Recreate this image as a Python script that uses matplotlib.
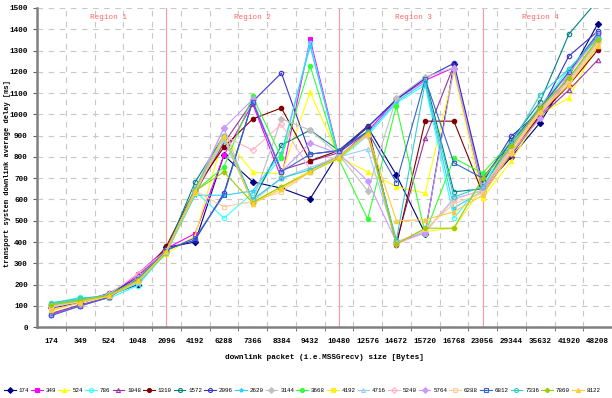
# Delay vs downlink packet size, one line per uplink packet size

import numpy as np
import matplotlib.pyplot as plt

plt.rcParams["font.family"] = ["Liberation Mono", "DejaVu Sans Mono"]

# x categories (downlink packet size)
sizes = ["174", "349", "524", "1048", "2096", "4192", "6288", "7366", "8384", "9432",
         "10480", "12576", "14672", "15720", "16768", "23056", "29344", "35632", "41920", "48208"]

# average delay [ms] per series
d174 = [95, 115, 150, 200, 375, 400, 808, 683, 653, 603, 820, 940, 715, 440, 1235, 650, 800, 961, 1180, 1424]
d349 = [60, 100, 140, 250, 370, 440, 808, 1050, 700, 1354, 800, 920, 1070, 1160, 1220, 640, 850, 1030, 1194, 1370]
d524 = [75, 120, 145, 215, 345, 430, 900, 729, 720, 1105, 800, 730, 660, 630, 1200, 606, 782, 1000, 1078, 1335]
d786 = [110, 140, 135, 195, 355, 640, 512, 630, 800, 1337, 790, 900, 1053, 1138, 512, 680, 850, 1040, 1213, 1360]
d1048 = [65, 105, 140, 240, 365, 630, 865, 1060, 738, 780, 820, 920, 400, 888, 1230, 640, 810, 990, 1114, 1255]
d1310 = [100, 120, 150, 215, 380, 650, 846, 978, 1030, 782, 830, 945, 385, 968, 968, 630, 820, 997, 1137, 1302]
d1572 = [105, 125, 155, 225, 360, 682, 900, 590, 855, 926, 830, 940, 1070, 1170, 636, 650, 880, 1059, 1377, 1535]
d2096 = [90, 115, 160, 230, 365, 410, 630, 1060, 1194, 813, 830, 940, 1070, 1170, 1240, 680, 898, 1013, 1274, 1390]
d2620 = [110, 130, 145, 205, 350, 620, 620, 640, 818, 1320, 800, 910, 1060, 1150, 560, 640, 860, 1040, 1157, 1340]
d3144 = [100, 125, 150, 215, 355, 650, 936, 590, 979, 926, 810, 641, 1077, 1175, 1220, 640, 860, 1040, 1190, 1360]
d3668 = [105, 130, 150, 210, 350, 640, 752, 1085, 796, 1228, 790, 508, 1040, 440, 794, 724, 870, 1030, 1170, 1350]
d4192 = [105, 120, 145, 210, 355, 630, 900, 590, 660, 735, 790, 912, 400, 450, 465, 660, 840, 1020, 1160, 1345]
d4716 = [95, 120, 150, 210, 355, 640, 880, 590, 700, 750, 800, 837, 400, 450, 606, 640, 840, 1020, 1160, 1340]
d5240 = [100, 125, 155, 250, 360, 640, 900, 832, 954, 740, 810, 900, 390, 445, 600, 645, 840, 1020, 1160, 1340]
d5764 = [55, 100, 140, 230, 360, 640, 936, 1070, 730, 865, 815, 688, 400, 442, 1215, 650, 820, 983, 1190, 1380]
d6288 = [95, 120, 150, 220, 360, 640, 566, 590, 636, 730, 800, 910, 395, 460, 580, 630, 830, 1010, 1150, 1330]
d6812 = [55, 100, 140, 225, 360, 420, 620, 1060, 730, 813, 830, 920, 679, 1165, 772, 700, 870, 1030, 1200, 1380]
d7336 = [115, 135, 150, 220, 350, 650, 900, 600, 700, 740, 800, 915, 410, 1150, 612, 660, 860, 1092, 1213, 1360]
d7860 = [105, 125, 150, 220, 355, 640, 729, 585, 660, 728, 795, 912, 390, 465, 465, 700, 850, 1030, 1170, 1350]
d8122 = [80, 115, 145, 215, 355, 640, 900, 580, 650, 730, 800, 910, 500, 505, 542, 620, 820, 1010, 1140, 1320]

labels = ["174", "349", "524", "786", "1048", "1310", "1572", "2096", "2620", "3144",
          "3668", "4192", "4716", "5240", "5764", "6288", "6812", "7336", "7860", "8122"]
series = [d174, d349, d524, d786, d1048, d1310, d1572, d2096, d2620, d3144,
          d3668, d4192, d4716, d5240, d5764, d6288, d6812, d7336, d7860, d8122]

colors = ["#000080", "#ff00ff", "#ffff00", "#33ffff", "#993399", "#800000", "#008080",
          "#3333cc", "#33ccff", "#c0c0c0", "#33ff33", "#ffee22", "#99ccff", "#ffb3c6",
          "#cc99ff", "#ffcc99", "#3366cc", "#33cccc", "#99cc00", "#ffcc33"]
markers = ["D", "s", "^", "o", "^", "o", "o", "o", "*", "D",
           "o", "s", "^", "D", "D", "s", "s", "o", "P", "^"]
filled = [True, True, True, False, False, True, False, False, False, True,
          True, True, False, False, True, False, False, False, True, True]

regions = ["Region 1", "Region 2", "Region 3", "Region 4"]
region_pos = [2, 7, 12.6, 17]
region_bounds = [4, 10, 15]

fig = plt.figure(figsize=(6.12, 3.98), dpi=100)
ax = fig.add_axes([0.0605, 0.178, 0.9395, 0.802])

x = np.arange(len(sizes))
for lab, vals, c, m, f in zip(labels, series, colors, markers, filled):
    ax.plot(x, vals, color=c, marker=m, markersize=3.2, linewidth=0.8,
            markerfacecolor=c if f else "none", markeredgewidth=0.8, label=lab)

for b in region_bounds:
    ax.axvline(b, color="#ff9999", linewidth=0.8, zorder=0)
for name, p in zip(regions, region_pos):
    ax.text(p, 1453, name, color="#ff6666", fontsize=5.5, ha="center", va="center")

ax.set_xlim(-0.5, len(sizes) - 0.5)
ax.set_ylim(0, 1500)
ax.set_yticks(np.arange(0, 1501, 100))
ax.set_xticks(x)
ax.set_xticklabels(sizes)
ax.set_xticks(x[:-1] + 0.5, minor=True)
ax.tick_params(axis="x", which="major", length=0, pad=8, labelsize=5.5)
ax.tick_params(axis="x", which="minor", length=3, color="#606060")
ax.tick_params(axis="y", length=3, color="#606060", labelsize=5.5)
for t in ax.get_xticklabels() + ax.get_yticklabels():
    t.set_fontweight("bold")

ax.grid(True, axis="y", linestyle=(0, (5, 5)), color="#c8c8c8", linewidth=0.8)
ax.grid(True, axis="x", which="minor", linestyle=(0, (5, 5)), color="#c8c8c8", linewidth=0.8)
ax.set_axisbelow(True)

for s in ["top", "right"]:
    ax.spines[s].set_visible(False)
for s in ["left", "bottom"]:
    ax.spines[s].set_color("#808080")
    ax.spines[s].set_linewidth(1.8)

ax.set_xlabel("downlink packet (i.e.MSSGrecv) size [Bytes]", fontsize=5.6,
              fontweight="bold", labelpad=6)
ax.set_ylabel("transport system downlink average delay [ms]", fontsize=5.0,
              fontweight="bold")
ax.yaxis.set_label_coords(-0.046, 0.48)

fig.legend(loc="lower left", bbox_to_anchor=(-0.002, 0.0), ncol=20, frameon=False,
           fontsize=4.2, handlelength=2.0, handletextpad=0.5, columnspacing=0.35,
           markerscale=0.9)

fig.savefig("out.png", dpi=100)
